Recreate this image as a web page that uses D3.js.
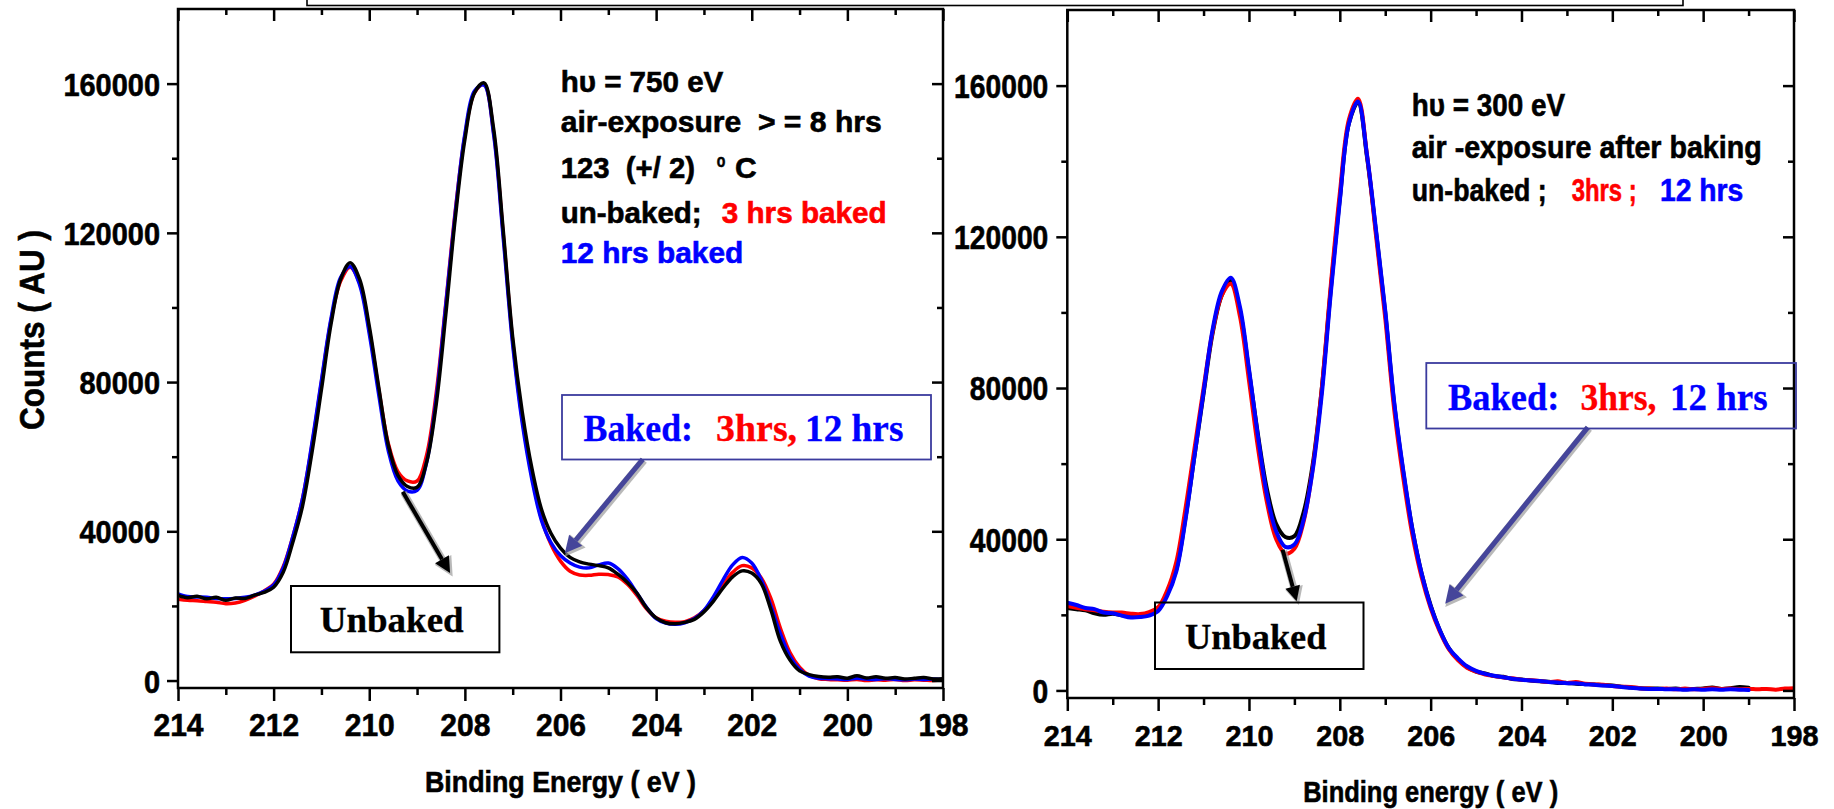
<!DOCTYPE html>
<html>
<head>
<meta charset="utf-8">
<script src="https://cdn.jsdelivr.net/npm/d3@7"></script>
<style>
  html, body { margin: 0; padding: 0; background: #ffffff; }
  svg { display: block; }
</style>
</head>
<body>
<svg id="fig" width="1834" height="809"></svg>
<script>
// Binding-energy grid shared by every spectrum (eV)
const energy = [
  214.0, 213.8, 213.6, 213.4, 213.2, 213.0, 212.8, 212.6, 212.4, 212.2,
  212.0, 211.8, 211.6, 211.4, 211.2, 211.0, 210.8, 210.6, 210.4, 210.2,
  210.0, 209.8, 209.6, 209.4, 209.2, 209.0, 208.8, 208.6, 208.4, 208.2,
  208.0, 207.8, 207.6, 207.4, 207.2, 207.0, 206.8, 206.6, 206.4, 206.2,
  206.0, 205.8, 205.6, 205.4, 205.2, 205.0, 204.8, 204.6, 204.4, 204.2,
  204.0, 203.8, 203.6, 203.4, 203.2, 203.0, 202.8, 202.6, 202.4, 202.2,
  202.0, 201.8, 201.6, 201.4, 201.2, 201.0, 200.8, 200.6, 200.4, 200.2,
  200.0, 199.8, 199.6, 199.4, 199.2, 199.0, 198.8, 198.6, 198.4, 198.2,
  198.0
];

// Axis ticks
const xTicksMajor = [214, 212, 210, 208, 206, 204, 202, 200, 198];
const xTicksMinor = [213, 211, 209, 207, 205, 203, 201, 199];
const yTicksMajor = [0, 40000, 80000, 120000, 160000];
const yTicksMinor = [20000, 60000, 100000, 140000];
const yDomain = [-2000, 180000];

// Series (counts / 1000), hv = 750 eV
const kc750Unbaked = [
  22.8, 22.2, 22.6, 21.9, 22.3, 21.5, 22.1, 22.0, 22.9, 23.6,
  25.0, 29.0, 37.0, 46.5, 61.0, 78.0, 95.5, 107.5, 112.0, 107.5,
  95.0, 78.5, 63.0, 55.0, 52.0, 51.8, 58.5, 74.0, 98.0, 124.0,
  145.0, 157.5, 160.2, 148.0, 121.0, 92.0, 72.0, 57.0, 46.0, 39.5,
  35.5, 33.0, 31.8, 31.2, 30.8, 30.2, 28.5, 26.3, 23.4, 19.5,
  16.8, 15.5, 15.2, 15.6, 16.4, 18.4, 21.3, 24.8, 27.8, 29.4,
  28.8, 26.0, 19.0, 10.5, 5.5, 2.6, 1.6, 1.1, 0.9, 1.0,
  0.6, 1.3, 0.7, 1.0, 0.6, 0.8, 0.4, 0.6, 0.8, 0.4,
  0.5
];
const kc750Baked3 = [
  21.8, 21.5, 21.4, 21.2, 21.0, 20.6, 20.8, 21.5, 22.6, 24.0,
  25.8, 30.5, 38.5, 48.5, 63.0, 80.0, 96.5, 107.0, 110.8, 106.5,
  94.0, 78.0, 63.5, 56.0, 53.5, 53.5, 60.5, 77.0, 101.0, 126.0,
  146.0, 157.5, 159.8, 147.0, 120.0, 91.0, 70.0, 55.0, 43.5, 36.5,
  32.0, 29.3, 28.3, 28.2, 28.5, 28.4, 27.8, 25.8, 22.8, 19.2,
  16.8, 15.9, 15.6, 15.8, 16.8, 18.8, 21.8, 25.6, 29.0, 30.8,
  30.2, 27.5, 22.0, 14.0, 7.5, 3.6, 1.4, 0.5, 0.3, 0.2,
  0.1, 0.3, 0.0, 0.2, 0.1, 0.3, 0.0, 0.2, 0.1, 0.0,
  0.2
];
const kc750Baked12 = [
  23.2, 22.5, 22.4, 22.3, 22.0, 21.9, 22.0, 22.3, 22.9, 23.9,
  25.6, 30.2, 38.5, 48.5, 63.5, 80.5, 97.0, 108.0, 111.0, 106.0,
  93.0, 76.5, 61.5, 53.5, 50.8, 51.0, 58.5, 75.5, 100.5, 125.5,
  146.5, 158.0, 159.6, 146.5, 119.0, 90.0, 69.0, 54.0, 43.0, 37.0,
  33.5, 31.5, 30.4, 30.2, 31.0, 31.5, 30.0, 27.2, 23.4, 19.6,
  16.6, 15.4, 15.1, 15.5, 16.6, 18.8, 22.5, 27.0, 31.0, 33.0,
  31.5, 27.0, 20.0, 12.5, 6.5, 3.0, 1.2, 0.6, 0.5, 0.4,
  0.3, 0.6, 0.4, 0.3, 0.5, 0.3, 0.2, 0.4, 0.3, 0.4,
  0.3
];

// Series (counts / 1000), hv = 300 eV
const kc300Unbaked = [
  21.8, 21.5, 21.2, 20.4, 20.0, 20.3, 19.9, 19.6, 19.6, 20.0,
  21.4, 25.5, 32.0, 45.5, 62.0, 78.5, 94.5, 104.5, 108.3, 100.5,
  84.5, 67.5, 53.0, 44.0, 40.6, 40.8, 47.0, 59.5, 79.5, 106.0,
  130.0, 150.0, 155.5, 141.0, 121.0, 100.0, 75.5, 57.5, 42.5, 31.0,
  22.5, 16.0, 11.2, 8.2, 6.2, 5.0, 4.5, 3.8, 3.6, 3.0,
  2.9, 2.6, 2.4, 2.3, 2.0, 2.0, 1.8, 1.7, 1.6, 1.4,
  1.3, 1.0, 0.8, 0.6, 0.5, 0.5, 0.4, 0.5, 0.3, 0.4,
  0.5, 0.8, 0.4, 0.6, 0.9, 0.7, null, null, null, null,
  null
];
const kc300Baked3 = [
  22.3, 21.9, 21.5, 21.2, 20.8, 20.6, 20.6, 20.3, 20.2, 20.7,
  22.0, 26.5, 34.0, 48.0, 64.0, 80.0, 95.0, 104.5, 107.6, 99.0,
  82.0, 64.0, 49.5, 40.0, 36.2, 37.5, 44.5, 58.5, 79.5, 107.0,
  131.5, 151.0, 156.5, 141.5, 120.0, 98.5, 74.0, 56.0, 41.0, 30.0,
  21.8, 15.6, 10.9, 8.0, 6.0, 5.0, 4.2, 3.8, 3.4, 3.2,
  2.8, 2.7, 2.5, 2.2, 2.4, 2.0, 2.2, 1.8, 1.6, 1.5,
  1.2, 1.0, 0.9, 0.6, 0.5, 0.4, 0.5, 0.3, 0.5, 0.3,
  0.4, 0.6, 0.4, 0.5, 0.3, 0.4, 0.3, 0.4, 0.2, 0.5,
  0.6
];
const kc300Baked12 = [
  23.2, 22.6, 21.8, 21.5, 20.6, 20.4, 19.8, 19.3, 19.4, 19.8,
  21.0, 25.0, 31.5, 45.0, 62.0, 79.0, 95.5, 105.5, 109.2, 101.5,
  85.0, 67.0, 51.5, 42.0, 38.0, 38.6, 45.0, 58.0, 78.0, 105.0,
  129.5, 150.0, 155.8, 141.5, 121.5, 100.5, 76.0, 58.0, 42.5, 31.0,
  22.3, 16.0, 11.2, 8.5, 6.4, 5.2, 4.4, 3.9, 3.5, 3.1,
  2.8, 2.6, 2.5, 2.2, 2.1, 1.9, 1.9, 1.6, 1.5, 1.3,
  1.2, 0.9, 0.7, 0.5, 0.4, 0.4, 0.3, 0.3, 0.2, 0.3,
  0.2, 0.3, 0.2, 0.3, 0.2, 0.1, null, null, null, null,
  null
];

const COLOR = { unbaked: "#000000", h3: "#ff0000", h12: "#0000ff" };
const SANS = "'Liberation Sans', Arial, Helvetica, sans-serif";
const SERIF = "'Liberation Serif', 'Times New Roman', Times, serif";
const BOXBLUE = "#3b3b9e";

const svg = d3.select("#fig");

// Header frame running across the top edge
svg.append("rect")
  .attr("x", 307).attr("y", -20).attr("width", 1376).attr("height", 25.5)
  .attr("fill", "none").attr("stroke", "#000").attr("stroke-width", 1.6);

function putText(parent, str, x, y, o) {
  const fill = o.fill || "#000";
  const t = parent.append("text")
    .attr("x", x).attr("y", y).text(str)
    .attr("font-family", o.serif ? SERIF : SANS)
    .attr("font-weight", "bold")
    .attr("font-size", o.size)
    .attr("fill", fill)
    .attr("stroke", fill)
    .attr("stroke-width", o.serif ? 0.3 : 0.6)
    .style("white-space", "pre");
  if (o.anchor) t.attr("text-anchor", o.anchor);
  if (o.width) t.attr("textLength", o.width).attr("lengthAdjust", "spacingAndGlyphs");
  if (o.transform) t.attr("transform", o.transform);
  return t;
}

function arrow(parent, x1, y1, x2, y2, color, w, head) {
  const dx = x2 - x1, dy = y2 - y1, L = Math.hypot(dx, dy);
  const ux = dx / L, uy = dy / L, px = -uy, py = ux, hw = head * 0.5;
  const bx = x2 - ux * head, by = y2 - uy * head;
  const headPath = `M${x2},${y2}L${bx + px * hw},${by + py * hw}L${bx - px * hw},${by - py * hw}Z`;
  // soft grey halo
  parent.append("line").attr("x1", x1 + 1).attr("y1", y1 + 1).attr("x2", bx + 1).attr("y2", by + 1)
    .attr("stroke", "#9c9c9c").attr("stroke-width", w + 3).attr("opacity", 0.7);
  parent.append("path").attr("d", headPath).attr("transform", "translate(1.5,1.5)")
    .attr("fill", "#9c9c9c").attr("stroke", "#9c9c9c").attr("stroke-width", 2).attr("opacity", 0.7);
  parent.append("line").attr("x1", x1).attr("y1", y1).attr("x2", bx).attr("y2", by)
    .attr("stroke", color).attr("stroke-width", w);
  parent.append("path").attr("d", headPath).attr("fill", color);
}

const panels = [
  {
    id: "hv750", left: 178, right: 943, top: 9, bottom: 688,
    series: [
      { values: kc750Baked3, color: COLOR.h3 },
      { values: kc750Baked12, color: COLOR.h12 },
      { values: kc750Unbaked, color: COLOR.unbaked }
    ],
    lineWidth: 3.5,
    xFont: 32, xCharW: 16.7, xLabelY: 48,
    yFont: 32, yCharW: 16.1, yLabelX: -18,
    xTitle: "Binding Energy ( eV )", xTitleY: 792, xTitleW: 271,
    arrows: [
      { from: [209.30, 50600], to: [208.31, 28800], color: "#000", w: 4, head: 16 },
      { from: [204.28, 59300], to: [205.91, 34100], color: "#45459a", w: 5, head: 17 }
    ]
  },
  {
    id: "hv300", left: 1067.3, right: 1794, top: 10, bottom: 698,
    series: [
      { values: kc300Unbaked, color: COLOR.unbaked },
      { values: kc300Baked3, color: COLOR.h3 },
      { values: kc300Baked12, color: COLOR.h12 }
    ],
    lineWidth: 4,
    xFont: 30, xCharW: 16, xLabelY: 47.7,
    yFont: 33, yCharW: 15.7, yLabelX: -19,
    xTitle: "Binding energy ( eV )", xTitleY: 802, xTitleW: 255,
    arrows: [
      { from: [209.26, 37200], to: [208.95, 23600], color: "#000", w: 4, head: 15 },
      { from: [202.54, 69600], to: [205.68, 22900], color: "#45459a", w: 5, head: 18 }
    ]
  }
];

panels.forEach(p => {
  const g = svg.append("g").attr("class", "panel-" + p.id);
  const x = d3.scaleLinear().domain([214, 198]).range([p.left, p.right]);
  const y = d3.scaleLinear().domain(yDomain).range([p.bottom, p.top]);

  // clip for spectra
  const clipId = "clip-" + p.id;
  g.append("clipPath").attr("id", clipId).append("rect")
    .attr("x", p.left).attr("y", p.top).attr("width", p.right - p.left).attr("height", p.bottom - p.top);

  const line = d3.line()
    .defined(d => d.v != null)
    .x(d => x(d.e))
    .y(d => y(d.v * 1000))
    .curve(d3.curveCatmullRom.alpha(0.5));

  const curves = g.append("g").attr("clip-path", `url(#${clipId})`);
  p.series.forEach(s => {
    const pts = energy.map((e, i) => ({ e, v: s.values[i] }));
    curves.append("path").datum(pts)
      .attr("d", line)
      .attr("fill", "none")
      .attr("stroke", s.color)
      .attr("stroke-width", p.lineWidth)
      .attr("stroke-linejoin", "round")
      .attr("stroke-linecap", "round");
  });

  const styleTicks = sel => {
    sel.select(".domain").remove();
    sel.selectAll(".tick line").attr("stroke", "#000").attr("stroke-width", 2.5);
  };
  const styleLabels = (sel, size, charW) => sel
    .attr("font-family", SANS).attr("font-weight", "bold").attr("font-size", size)
    .attr("fill", "#000").attr("stroke", "#000").attr("stroke-width", 0.6)
    .attr("textLength", d => String(d).length * charW)
    .attr("lengthAdjust", "spacingAndGlyphs");

  // bottom axis (outward ticks with labels)
  g.append("g").attr("transform", `translate(0,${p.bottom})`)
    .call(d3.axisBottom(x).tickValues(xTicksMajor).tickSize(13).tickSizeOuter(0).tickFormat(d3.format("d")))
    .call(styleTicks)
    .call(a => styleLabels(a.selectAll("text").attr("y", p.xLabelY).attr("dy", null), p.xFont, p.xCharW));
  g.append("g").attr("transform", `translate(0,${p.bottom})`)
    .call(d3.axisBottom(x).tickValues(xTicksMinor).tickSize(7).tickSizeOuter(0).tickFormat(""))
    .call(styleTicks);

  // top axis (inward ticks)
  g.append("g").attr("transform", `translate(0,${p.top})`)
    .call(d3.axisTop(x).tickValues(xTicksMajor).tickSize(-12).tickSizeOuter(0).tickFormat(""))
    .call(styleTicks);
  g.append("g").attr("transform", `translate(0,${p.top})`)
    .call(d3.axisTop(x).tickValues(xTicksMinor).tickSize(-6).tickSizeOuter(0).tickFormat(""))
    .call(styleTicks);

  // left axis (outward ticks with labels)
  g.append("g").attr("transform", `translate(${p.left},0)`)
    .call(d3.axisLeft(y).tickValues(yTicksMajor).tickSize(11).tickSizeOuter(0).tickFormat(d3.format("d")))
    .call(styleTicks)
    .call(a => styleLabels(a.selectAll("text").attr("x", p.yLabelX).attr("dy", "0.36em"), p.yFont, p.yCharW));
  g.append("g").attr("transform", `translate(${p.left},0)`)
    .call(d3.axisLeft(y).tickValues(yTicksMinor).tickSize(6).tickSizeOuter(0).tickFormat(""))
    .call(styleTicks);

  // right axis (inward ticks)
  g.append("g").attr("transform", `translate(${p.right},0)`)
    .call(d3.axisRight(y).tickValues(yTicksMajor).tickSize(-11).tickSizeOuter(0).tickFormat(""))
    .call(styleTicks);
  g.append("g").attr("transform", `translate(${p.right},0)`)
    .call(d3.axisRight(y).tickValues(yTicksMinor).tickSize(-6).tickSizeOuter(0).tickFormat(""))
    .call(styleTicks);

  // plot frame
  g.append("rect")
    .attr("x", p.left).attr("y", p.top)
    .attr("width", p.right - p.left).attr("height", p.bottom - p.top)
    .attr("fill", "none").attr("stroke", "#000").attr("stroke-width", 2.5);

  // x-axis title
  putText(g, p.xTitle, (p.left + p.right) / 2, p.xTitleY,
    { size: 30, anchor: "middle", width: p.xTitleW });

  // arrows anchored in data space
  p.arrows.forEach(a => {
    arrow(g, x(a.from[0]), y(a.from[1]), x(a.to[0]), y(a.to[1]), a.color, a.w, a.head);
  });

  p.g = g;
});

// y-axis title (left panel)
putText(svg, "Counts ( AU )", 0, 0,
  { size: 35, anchor: "middle", width: 200, transform: "translate(43.5,330) rotate(-90)" });

// ---- annotations, hv = 750 eV panel ----
const a1 = panels[0].g;
putText(a1, "h\u03C5 = 750 eV", 560.7, 91.7, { size: 30, width: 162.6 });
putText(a1, "air-exposure  > = 8 hrs", 560.7, 131.7, { size: 30, width: 321 });
putText(a1, "123  (+/ 2)", 560.7, 178.3, { size: 30, width: 134.3 });
putText(a1, "o", 716.7, 166.7, { size: 19, width: 8.6 });
putText(a1, "C", 735, 178.3, { size: 30, width: 21.7 });
putText(a1, "un-baked;", 560.7, 223.3, { size: 30, width: 141 });
putText(a1, "3 hrs baked", 721.7, 223.3, { size: 30, width: 165, fill: COLOR.h3 });
putText(a1, "12 hrs baked", 560.7, 263.3, { size: 30, width: 182.6, fill: COLOR.h12 });

a1.append("rect").attr("x", 562).attr("y", 395).attr("width", 369).attr("height", 64.5)
  .attr("fill", "none").attr("stroke", BOXBLUE).attr("stroke-width", 1.8);
putText(a1, "Baked:", 583.6, 441, { serif: true, size: 37, width: 109.4, fill: COLOR.h12 });
putText(a1, "3hrs,", 716.1, 441, { serif: true, size: 37, width: 81, fill: COLOR.h3 });
putText(a1, "12 hrs", 805, 441, { serif: true, size: 37, width: 98.4, fill: COLOR.h12 });

a1.append("rect").attr("x", 291).attr("y", 586).attr("width", 208.4).attr("height", 66.3)
  .attr("fill", "none").attr("stroke", "#000").attr("stroke-width", 2);
putText(a1, "Unbaked", 319.7, 632.3, { serif: true, size: 36, width: 144 });

// ---- annotations, hv = 300 eV panel ----
const a2 = panels[1].g;
putText(a2, "h\u03C5 = 300 eV", 1411.7, 116, { size: 31, width: 153.3 });
putText(a2, "air -exposure after baking", 1411.7, 158.3, { size: 31, width: 350 });
putText(a2, "un-baked ;", 1411.7, 200.7, { size: 31, width: 135 });
putText(a2, "3hrs ;", 1571.7, 200.7, { size: 31, width: 65, fill: COLOR.h3 });
putText(a2, "12 hrs", 1660, 200.7, { size: 31, width: 83.3, fill: COLOR.h12 });

a2.append("rect").attr("x", 1426.3).attr("y", 363).attr("width", 369.7).attr("height", 65.5)
  .attr("fill", "none").attr("stroke", BOXBLUE).attr("stroke-width", 1.8);
putText(a2, "Baked:", 1448, 410.4, { serif: true, size: 38, width: 111.3, fill: COLOR.h12 });
putText(a2, "3hrs,", 1580.4, 410.4, { serif: true, size: 38, width: 76, fill: COLOR.h3 });
putText(a2, "12 hrs", 1670, 410.4, { serif: true, size: 38, width: 97.6, fill: COLOR.h12 });

a2.append("rect").attr("x", 1155).attr("y", 602.5).attr("width", 208.5).attr("height", 66.5)
  .attr("fill", "none").attr("stroke", "#000").attr("stroke-width", 2);
putText(a2, "Unbaked", 1185, 649, { serif: true, size: 36.5, width: 141.5 });
</script>
</body>
</html>
